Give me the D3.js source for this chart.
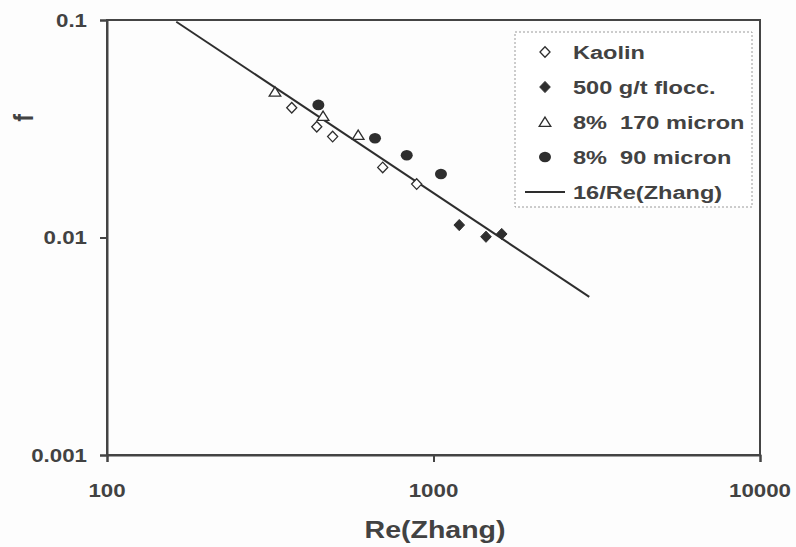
<!DOCTYPE html>
<html>
<head>
<meta charset="utf-8">
<script src="https://cdn.jsdelivr.net/npm/d3@7"></script>
<style>
  html, body { margin: 0; padding: 0; background: #fdfdfd; }
  svg { display: block; }
  text { font-family: "Liberation Sans", Arial, sans-serif; font-weight: bold; fill: #424242; white-space: pre; }
</style>
</head>
<body>
<svg id="chart" width="796" height="547"></svg>
<script>
// Friction factor f versus Reynolds number Re(Zhang), log-log

const kaolinRe = [368, 439, 491, 699, 888];
const kaolinF  = [0.0395, 0.0323, 0.0291, 0.0210, 0.0176];

const floccRe = [1199, 1448, 1618];
const floccF  = [0.01141, 0.01008, 0.01038];

const coarseRe = [327, 459, 588];          // 8% 170 micron
const coarseF  = [0.0468, 0.0362, 0.0296];

const fineRe = [444, 662, 828, 1054];      // 8% 90 micron
const fineF  = [0.0407, 0.0286, 0.0239, 0.0196];

const laminarRe = [163, 3000];             // 16/Re(Zhang) line
const xTicks = [100, 1000, 10000];
const yTicks = [0.001, 0.01, 0.1];
const xTickLabels = ["100", "1000", "10000"];
const yTickLabels = ["0.001", "0.01", "0.1"];

const legendLabels = ["Kaolin", "500 g/t flocc.", "8%  170 micron", "8%  90 micron", "16/Re(Zhang)"];

const ink = "#2e2e2e";
const stretch = 1.24;

const svg = d3.select("#chart");
const plot = { left: 107, right: 760, top: 20, bottom: 455 };

const x = d3.scaleLog().domain([100, 10000]).range([plot.left, plot.right]);
const y = d3.scaleLog().domain([0.001, 0.1]).range([plot.bottom, plot.top]);

// frame
svg.append("rect")
  .attr("x", plot.left).attr("y", plot.top)
  .attr("width", plot.right - plot.left).attr("height", plot.bottom - plot.top)
  .attr("fill", "none").attr("stroke", "#444").attr("stroke-width", 2);

// axes (tick marks only, labels drawn separately)
const xAxis = svg.append("g")
  .attr("transform", `translate(0,${plot.bottom})`)
  .call(d3.axisBottom(x).tickValues(xTicks).tickSize(7).tickFormat(""));
const yAxis = svg.append("g")
  .attr("transform", `translate(${plot.left},0)`)
  .call(d3.axisLeft(y).tickValues(yTicks).tickSize(7).tickFormat(""));
[xAxis, yAxis].forEach(a => {
  a.select(".domain").attr("stroke", "#444").attr("stroke-width", 2);
  a.selectAll(".tick line").attr("stroke", "#444").attr("stroke-width", 2);
});

// tick labels
xTicks.forEach((v, i) => {
  svg.append("text")
    .attr("transform", `translate(${x(v)},497) scale(${stretch},1)`)
    .attr("text-anchor", "middle")
    .attr("font-size", 18)
    .text(xTickLabels[i]);
});
yTicks.forEach((v, i) => {
  svg.append("text")
    .attr("transform", `translate(87,${y(v) + 6.5}) scale(${stretch},1)`)
    .attr("text-anchor", "end")
    .attr("font-size", 18)
    .text(yTickLabels[i]);
});

// axis titles
svg.append("text")
  .attr("transform", `translate(435,538) scale(${stretch},1)`)
  .attr("text-anchor", "middle")
  .attr("font-size", 23)
  .text("Re(Zhang)");
svg.append("text")
  .attr("transform", `translate(33,118) scale(${stretch},1) rotate(-90)`)
  .attr("text-anchor", "middle")
  .attr("font-size", 23)
  .text("f");

// 16/Re line
svg.append("clipPath").attr("id", "plotclip")
  .append("rect").attr("x", plot.left).attr("y", plot.top)
  .attr("width", plot.right - plot.left).attr("height", plot.bottom - plot.top);
const line = d3.line().x(d => x(d)).y(d => y(16 / d));
svg.append("path")
  .attr("d", line(laminarRe))
  .attr("clip-path", "url(#plotclip)")
  .attr("fill", "none").attr("stroke", ink).attr("stroke-width", 2);

// marker shapes
const diamond = s => `M0,${-s}L${s * 0.95},0L0,${s}L${-s * 0.95},0Z`;
const triangle = s => `M0,${-s * 0.85}L${s},${s * 0.75}L${-s},${s * 0.75}Z`;

function markers(reArr, fArr, kind) {
  const g = svg.append("g");
  reArr.forEach((re, i) => drawMarker(g, x(re), y(fArr[i]), kind));
}
function drawMarker(g, cx, cy, kind) {
  if (kind === "openDiamond") {
    g.append("path").attr("d", diamond(5.3)).attr("transform", `translate(${cx},${cy})`)
      .attr("fill", "#fff").attr("stroke", ink).attr("stroke-width", 1.3);
  } else if (kind === "filledDiamond") {
    g.append("path").attr("d", diamond(5.6)).attr("transform", `translate(${cx},${cy})`)
      .attr("fill", ink).attr("stroke", ink).attr("stroke-width", 1);
  } else if (kind === "triangle") {
    g.append("path").attr("d", triangle(5.8)).attr("transform", `translate(${cx},${cy})`)
      .attr("fill", "#fff").attr("stroke", ink).attr("stroke-width", 1.3);
  } else if (kind === "circle") {
    g.append("ellipse").attr("cx", cx).attr("cy", cy).attr("rx", 6).attr("ry", 5.3)
      .attr("fill", ink);
  }
}

markers(kaolinRe, kaolinF, "openDiamond");
markers(coarseRe, coarseF, "triangle");
markers(fineRe, fineF, "circle");
markers(floccRe, floccF, "filledDiamond");

// legend
const lg = svg.append("g");
lg.append("rect")
  .attr("x", 515).attr("y", 32).attr("width", 237).attr("height", 175)
  .attr("fill", "#fff").attr("stroke", "#9a9a9a").attr("stroke-width", 1)
  .attr("stroke-dasharray", "2,2");
const kinds = ["openDiamond", "filledDiamond", "triangle", "circle", "line"];
const rowY = [52, 87, 122, 157, 192];
kinds.forEach((k, i) => {
  if (k === "line") {
    lg.append("line").attr("x1", 525).attr("x2", 565).attr("y1", rowY[i]).attr("y2", rowY[i])
      .attr("stroke", ink).attr("stroke-width", 2);
  } else {
    drawMarker(lg, 545, rowY[i], k);
  }
  lg.append("text")
    .attr("transform", `translate(573,${rowY[i] + 7}) scale(${stretch},1)`)
    .attr("font-size", 19)
    .attr("xml:space", "preserve")
    .text(legendLabels[i]);
});
</script>
</body>
</html>
